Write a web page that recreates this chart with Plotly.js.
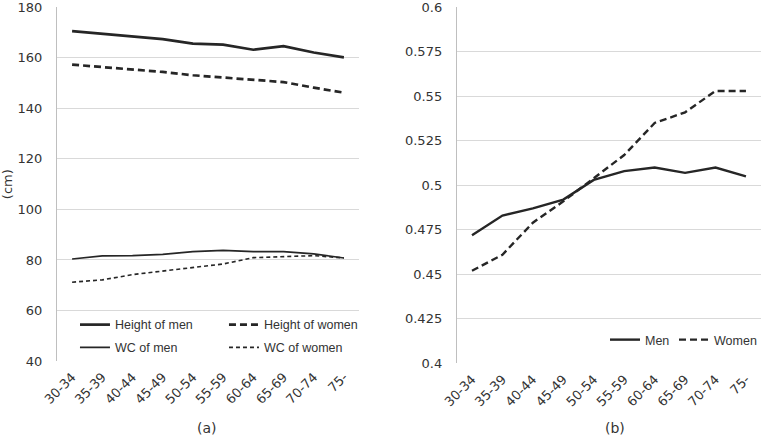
<!DOCTYPE html>
<html>
<head>
<meta charset="utf-8">
<script src="https://cdn.plot.ly/plotly-3.0.1.min.js"></script>
<style>html,body{margin:0;padding:0;background:#fff;}#chart{width:765px;height:436px;}</style>
</head>
<body>
<div id="chart"></div>
<script>
const ageGroups = ["30-34","35-39","40-44","45-49","50-54","55-59","60-64","65-69","70-74","75-"];
const heightMen   = [170.6,169.5,168.6,167.4,165.6,165.2,163.2,164.6,162.1,160.2];
const heightWomen = [157.3,156.4,155.5,154.4,153.1,152.2,151.4,150.4,148.2,146.2];
const wcMen   = [80.4,81.6,81.7,82.2,83.3,83.8,83.3,83.3,82.4,80.8];
const wcWomen = [71.2,72.1,74.2,75.6,77.1,78.4,80.9,81.3,81.7,80.8];
const whtrMen   = [0.472,0.483,0.487,0.492,0.503,0.508,0.510,0.507,0.510,0.505];
const whtrWomen = [0.452,0.461,0.479,0.491,0.504,0.517,0.535,0.541,0.553,0.553];
const leftTicks = [40,60,80,100,120,140,160,180];
const rightTicks = [0.4,0.425,0.45,0.475,0.5,0.525,0.55,0.575,0.6];
const rightTickText = ["0.4","0.425","0.45","0.475","0.5","0.525","0.55","0.575","0.6"];

const ink = '#262626';
const txt = '#333333';
const tickFont = {family: 'DejaVu Sans, sans-serif', size: 13, color: txt};
const legFont = {family: 'Liberation Sans, Arial, sans-serif', size: 12.5, color: txt};

const traces = [
  {x: ageGroups, y: heightMen, name: 'Height of men', mode: 'lines', xaxis: 'x', yaxis: 'y',
   line: {color: ink, width: 2.7}, legend: 'legend'},
  {x: ageGroups, y: heightWomen, name: 'Height of women', mode: 'lines', xaxis: 'x', yaxis: 'y',
   line: {color: ink, width: 2.7, dash: '7px,4px'}, legend: 'legend'},
  {x: ageGroups, y: wcMen, name: 'WC of men', mode: 'lines', xaxis: 'x', yaxis: 'y',
   line: {color: ink, width: 1.6}, legend: 'legend2'},
  {x: ageGroups, y: wcWomen, name: 'WC of women', mode: 'lines', xaxis: 'x', yaxis: 'y',
   line: {color: ink, width: 1.6, dash: '4px,3px'}, legend: 'legend2'},
  {x: ageGroups, y: whtrMen, name: 'Men', mode: 'lines', xaxis: 'x2', yaxis: 'y2',
   line: {color: ink, width: 2.4}, legend: 'legend3'},
  {x: ageGroups, y: whtrWomen, name: 'Women', mode: 'lines', xaxis: 'x2', yaxis: 'y2',
   line: {color: ink, width: 2.4, dash: '7px,4px'}, legend: 'legend4'}
];

const xCommon = {type: 'category', range: [-0.5, 9.5], tickangle: -45, showgrid: false,
  showline: false, zeroline: false, ticks: '', tickfont: tickFont, ticklabelstandoff: 5,
  ticklabeloverflow: 'allow', fixedrange: true};
const yCommon = {showgrid: true, gridcolor: '#d9d9d9', gridwidth: 1, zeroline: false,
  showline: true, linecolor: '#bfbfbf', linewidth: 1, ticks: '', tickfont: tickFont,
  ticklabelstandoff: 11, ticklabeloverflow: 'allow'};

const legCommon = {orientation: 'h', xanchor: 'left', yanchor: 'middle', bgcolor: 'rgba(0,0,0,0)',
  font: legFont, itemwidth: 30, tracegroupgap: 0, entrywidthmode: 'pixels'};

const layout = {
  width: 765, height: 436,
  margin: {l: 0, r: 0, t: 0, b: 0},
  paper_bgcolor: '#fff', plot_bgcolor: '#fff',
  font: tickFont,
  xaxis: {...xCommon, domain: [0.0745, 0.4693], anchor: 'y'},
  yaxis: {...yCommon, domain: [0.172, 0.9833], range: [40, 180], tickvals: leftTicks,
    anchor: 'x', title: {text: '(cm)', font: tickFont, standoff: 3}},
  xaxis2: {...xCommon, domain: [0.5971, 0.995], anchor: 'y2'},
  yaxis2: {...yCommon, domain: [0.1667, 0.9833], range: [0.4, 0.6], tickvals: rightTicks,
    ticktext: rightTickText, anchor: 'x2'},
  showlegend: true,
  legend: {...legCommon, x: 0.098, y: 0.2546, entrywidth: 104},
  legend2: {...legCommon, x: 0.098, y: 0.2025, entrywidth: 104},
  legend3: {...legCommon, x: 605/765, y: 1 - 340/436},
  legend4: {...legCommon, x: 674/765, y: 1 - 340/436},
  annotations: [
    {text: '(a)', xref: 'paper', yref: 'paper', x: 207/765, y: 1 - 428/436, xanchor: 'center',
     yanchor: 'middle', showarrow: false, font: {...tickFont, size: 14}},
    {text: '(b)', xref: 'paper', yref: 'paper', x: 615/765, y: 1 - 428/436, xanchor: 'center',
     yanchor: 'middle', showarrow: false, font: {...tickFont, size: 14}}
  ]
};

Plotly.newPlot('chart', traces, layout, {staticPlot: true, displayModeBar: false});
</script>
</body>
</html>
